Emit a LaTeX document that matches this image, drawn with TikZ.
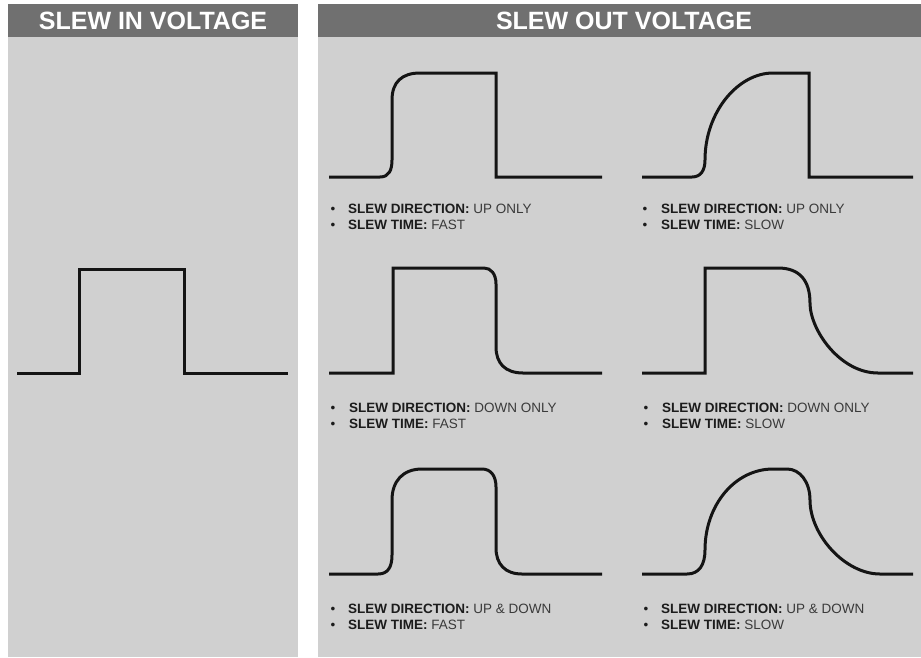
\documentclass[tikz,border=0pt]{standalone}
\usepackage{fontspec}
\setmainfont{Liberation Sans}
\definecolor{hdr}{RGB}{112,112,112}
\definecolor{body}{RGB}{208,208,208}
\definecolor{ink}{RGB}{20,20,20}
\definecolor{txtb}{RGB}{28,28,28}
\definecolor{txtr}{RGB}{58,58,58}
\tikzset{
  wave/.style={draw=ink, line width=3pt, line join=miter},
  hdrtext/.style={text=white, font=\fontsize{25}{28}\selectfont\bfseries, inner sep=0pt},
  bul/.style={anchor=base, inner sep=0pt, text=txtb, font=\fontsize{13.5}{16}\selectfont},
  lab/.style={anchor=base west, inner sep=0pt, font=\fontsize{13.5}{16}\selectfont},
}
\newcommand{\lbl}[2]{\textcolor{txtb}{\bfseries #1}\textcolor{txtr}{\ #2}}
\begin{document}
\begin{tikzpicture}[x=1pt, y=-1pt]
\useasboundingbox[fill=white] (0,0) rectangle (921,657);
% panels
\fill[body] (8,4) rectangle (298,657);
\fill[body] (318,4) rectangle (921,657);
\fill[hdr] (8,4) rectangle (298,37);
\fill[hdr] (318,4) rectangle (921,37);
\node[hdrtext] (hin) at (153,21) {SLEW IN VOLTAGE};
\node[hdrtext] (hout) at (624,21) {SLEW OUT VOLTAGE};
% input
\draw[wave] (17,373) -- (79,373) -- (79,269) -- (184,269) -- (184,373) -- (288,373);
% 1 up only fast
\draw[wave] (329,177) -- (380,177) .. controls (389,177) and (392,170) .. (392,160) -- (392,100)
  .. controls (392,82) and (402,73) .. (420,73) -- (496,73) -- (496,177) -- (602,177);
% 2 up only slow
\draw[wave] (642,177) -- (692,177) .. controls (701,177) and (705,170) .. (705,160)
  .. controls (705,112) and (738,73) .. (773,73) -- (809,73) -- (809,177) -- (913,177);
% 3 down only fast
\draw[wave] (329,373) -- (393,373) -- (393,268) -- (484,268) .. controls (491,268) and (496,274) .. (496,284)
  -- (496,347) .. controls (496,363) and (505,373) .. (523,373) -- (602,373);
% 4 down only slow
\draw[wave] (642,373) -- (705,373) -- (705,268) -- (778,268) .. controls (800,268) and (810,281) .. (810,303)
  .. controls (810,330) and (840,373) .. (878,373) -- (913,373);
% 5 up & down fast
\draw[wave] (329,574) -- (378,574) .. controls (388,574) and (392,567) .. (392,555) -- (392,500)
  .. controls (392,481) and (403,469) .. (422,469) -- (482,469) .. controls (491,469) and (496,476) .. (496,487)
  -- (496,548) .. controls (496,564) and (505,574) .. (522,574) -- (602,574);
% 6 up & down slow
\draw[wave] (642,574) -- (687,574) .. controls (699,574) and (705,565) .. (705,550)
  .. controls (705,505) and (735,469) .. (773,469) -- (787,469) .. controls (800,469) and (810,482) .. (810,500)
  .. controls (810,535) and (845,574) .. (880,574) -- (913,574);
% labels
\node[bul] (b1a) at (333,213) {•}; \node[lab] (t1a) at (348,213) {\lbl{SLEW DIRECTION:}{UP ONLY}};
\node[bul] (b1b) at (333,229) {•}; \node[lab] (t1b) at (348,229) {\lbl{SLEW TIME:}{FAST}};
\node[bul] (b2a) at (645,213) {•}; \node[lab] (t2a) at (661,213) {\lbl{SLEW DIRECTION:}{UP ONLY}};
\node[bul] (b2b) at (645,229) {•}; \node[lab] (t2b) at (661,229) {\lbl{SLEW TIME:}{SLOW}};
\node[bul] (b3a) at (333,412) {•}; \node[lab] (t3a) at (349,412) {\lbl{SLEW DIRECTION:}{DOWN ONLY}};
\node[bul] (b3b) at (333,428) {•}; \node[lab] (t3b) at (349,428) {\lbl{SLEW TIME:}{FAST}};
\node[bul] (b4a) at (646,412) {•}; \node[lab] (t4a) at (662,412) {\lbl{SLEW DIRECTION:}{DOWN ONLY}};
\node[bul] (b4b) at (646,428) {•}; \node[lab] (t4b) at (662,428) {\lbl{SLEW TIME:}{SLOW}};
\node[bul] (b5a) at (333,613) {•}; \node[lab] (t5a) at (348,613) {\lbl{SLEW DIRECTION:}{UP \& DOWN}};
\node[bul] (b5b) at (333,629) {•}; \node[lab] (t5b) at (348,629) {\lbl{SLEW TIME:}{FAST}};
\node[bul] (b6a) at (646,613) {•}; \node[lab] (t6a) at (661,613) {\lbl{SLEW DIRECTION:}{UP \& DOWN}};
\node[bul] (b6b) at (646,629) {•}; \node[lab] (t6b) at (661,629) {\lbl{SLEW TIME:}{SLOW}};
\end{tikzpicture}
\end{document}
